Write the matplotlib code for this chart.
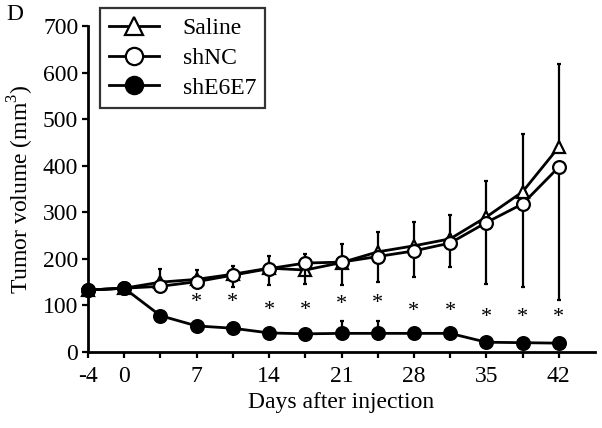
import numpy as np
import matplotlib
matplotlib.use('Agg')
import matplotlib.pyplot as plt

plt.rcParams['font.family'] = ['Liberation Serif', 'DejaVu Serif']
plt.rcParams['mathtext.fontset'] = 'custom'
plt.rcParams['mathtext.rm'] = 'Liberation Serif'

# days after injection (measurements every 3.5 days, drawn evenly spaced)
days = [-4, 0, 3.5, 7, 10.5, 14, 17.5, 21, 24.5, 28, 31.5, 35, 38.5, 42]
shown_days = [-4, 0, 7, 14, 21, 28, 35, 42]

saline = [133, 137, 150, 156, 167, 180, 176, 192, 215, 228, 243, 290, 344, 440]
saline_err_up = [0, 0, 28, 20, 18, 26, 34, 40, 43, 52, 51, 78, 124, 178]

shnc = [133, 137, 141, 151, 165, 179, 191, 193, 205, 217, 234, 278, 318, 397]
shnc_err_down = [0, 0, 0, 5, 25, 35, 45, 49, 54, 57, 51, 132, 178, 285]

she6e7 = [133, 137, 78, 56, 51, 41, 39, 40, 40, 40, 40, 21, 20, 19]
she6e7_err_up = [0, 0, 5, 5, 5, 5, 5, 27, 27, 5, 5, 5, 5, 5]

# significance stars (day, height)
star_days = [7, 10.5, 14, 17.5, 21, 24.5, 28, 31.5, 35, 38.5, 42]
star_y = [107, 107, 90, 90, 103, 104, 87, 87, 75, 75, 75]

x = np.arange(len(days))
zeros = np.zeros(len(days))
FS = 17

fig = plt.figure(figsize=(6.02, 4.28), dpi=100)
ax = fig.add_axes([88/602, 1 - 352/428, (595 - 88)/602, (352 - 26)/428])

common = dict(color='k', linewidth=2, markersize=9.2, markeredgewidth=1.6,
              elinewidth=1.6, capsize=1.6, capthick=1.6, clip_on=False)

ax.errorbar(x, saline, yerr=[zeros, saline_err_up], marker='^',
            markerfacecolor='white', label='Saline', zorder=3, **common)
ax.errorbar(x, shnc, yerr=[shnc_err_down, zeros], marker='o',
            markerfacecolor='white', label='shNC', zorder=4, **common)
ax.errorbar(x, she6e7, yerr=[zeros, she6e7_err_up], marker='o',
            markerfacecolor='k', label='shE6E7', zorder=5, **common)

for d, y in zip(star_days, star_y):
    ax.text(days.index(d), y, '*', ha='center', va='center', fontsize=16)

ax.set_xlim(0, 14)
ax.set_ylim(0, 700)
ax.set_xticks(x)
ax.set_xticklabels([('%g' % d) if d in shown_days else '' for d in days])
ax.set_yticks(np.arange(0, 701, 100))

for s in ['top', 'right']:
    ax.spines[s].set_visible(False)
for s in ['left', 'bottom']:
    ax.spines[s].set_linewidth(2)

ax.tick_params(axis='both', which='major', direction='out', length=4, width=1.6,
               labelsize=FS)
ax.tick_params(axis='x', pad=6)
ax.tick_params(axis='y', pad=3)

ax.set_xlabel('Days after injection', fontsize=FS, labelpad=4)
ax.set_ylabel('Tumor volume (mm$^3$)', fontsize=FS, labelpad=5)

fig.text(6/602, 1 - 4/428, 'D', ha='left', va='top', fontsize=FS)

handles, labels = ax.get_legend_handles_labels()
handles = [h[0] for h in handles]
leg = ax.legend(handles, labels, loc='upper left',
                bbox_to_anchor=(100/602, 1 - 8/428), bbox_transform=fig.transFigure,
                borderaxespad=0, fancybox=False, frameon=True, fontsize=FS,
                handlelength=2.1, markerscale=1.35, labelspacing=0.35,
                handletextpad=1.0, borderpad=0.4)
leg.get_frame().set_edgecolor('k')
leg.get_frame().set_linewidth(1.6)

fig.savefig('out.png', dpi=100)
